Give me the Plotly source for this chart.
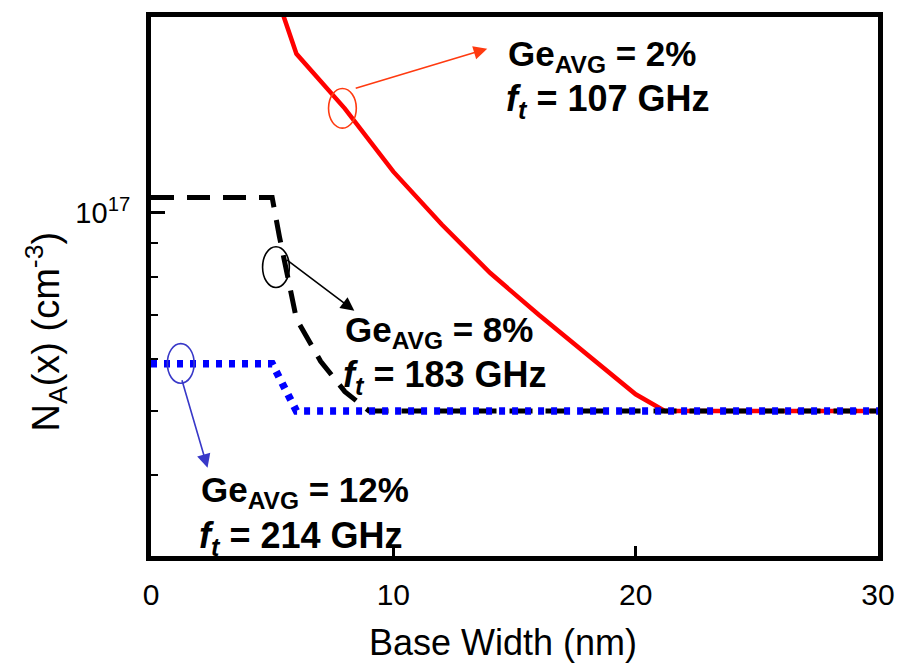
import math
import plotly.graph_objects as go

# ---------------- data ----------------
x_ge2 = [5.45, 6, 8, 10, 12, 14, 16, 18, 20, 21.2, 30]
na_ge2 = [2.0e17, 1.745e17, 1.44e17, 1.155e17, 9.6e16, 8.1e16, 7.0e16, 6.1e16, 5.3e16, 5.0e16, 5.0e16]

x_ge8 = [0, 5, 5.3, 6, 7, 8, 9, 30]
na_ge8 = [1.055e17, 1.055e17, 9.2e16, 6.9e16, 5.95e16, 5.35e16, 5.0e16, 5.0e16]

x_ge12 = [0, 5, 6, 30]
na_ge12 = [5.9e16, 5.9e16, 5.0e16, 5.0e16]

x_ticks = [0, 10, 20, 30]
y_tick_vals = [1e17]
y_tick_text = ["10<sup>17</sup>"]

# ---------------- layout geometry ----------------
W, H = 907, 671
L, R, T, B = 151, 884, 13, 556
FONT = "Liberation Sans, Arial, sans-serif"


def px(xp):
    return (xp - L) / (R - L)


def py(yp):
    return (B - yp) / (B - T)


fig = go.Figure()
fig.add_trace(go.Scatter(x=x_ge2, y=na_ge2, mode="lines",
                         line=dict(color="#ff0000", width=4.5), showlegend=False))
fig.add_trace(go.Scatter(x=x_ge8, y=na_ge8, mode="lines",
                         line=dict(color="black", width=5, dash="23px,13px"), showlegend=False))
fig.add_trace(go.Scatter(x=x_ge12, y=na_ge12, mode="lines",
                         line=dict(color="#0000ff", width=7.5, dash="6px,7px"), showlegend=False))

fig.update_layout(
    width=W, height=H,
    margin=dict(l=L, r=W - R, t=T, b=H - B),
    paper_bgcolor="white", plot_bgcolor="white",
    font=dict(family=FONT, color="black"),
)
fig.update_xaxes(
    range=[0, 30], tickvals=x_ticks, ticks="inside", ticklen=10, tickwidth=2.5,
    tickcolor="black", showline=True, linewidth=5, linecolor="black", mirror=True,
    showgrid=False, zeroline=False, tickfont=dict(size=30, family=FONT),
    ticklabelstandoff=8,
)
fig.update_yaxes(
    type="log", range=[16.4786, 17.2976], tickvals=y_tick_vals, ticktext=y_tick_text,
    ticks="inside", ticklen=14, tickwidth=2.5, tickcolor="black",
    minor=dict(ticks="inside", ticklen=7, tickwidth=2, tickcolor="black", dtick="D1"),
    showline=True, linewidth=5, linecolor="black", mirror=True,
    showgrid=False, zeroline=False, tickfont=dict(size=29, family=FONT),
    ticklabelstandoff=10,
)

ann = []
# axis titles
ann.append(dict(x=px(506), y=py(643), xref="paper", yref="paper", showarrow=False,
                xanchor="center", yanchor="middle",
                text="Base Width (nm)", font=dict(size=36, family=FONT)))
ann.append(dict(x=px(45), y=py(330), xref="paper", yref="paper", showarrow=False,
                xanchor="center", yanchor="middle",
                text="N<sub>A</sub>(x) (cm<sup>-3</sup>)", textangle=-90,
                font=dict(size=38, family=FONT)))

# labels
def label(xl, yc, l1, l2):
    ann.append(dict(x=px(xl), y=py(yc), xref="paper", yref="paper", showarrow=False,
                    xanchor="left", yanchor="middle", text="<b>" + l1 + "</b>",
                    font=dict(size=35, family=FONT)))
    ann.append(dict(x=px(xl - 2), y=py(yc + 46), xref="paper", yref="paper", showarrow=False,
                    xanchor="left", yanchor="middle", text="<b>" + l2 + "</b>",
                    font=dict(size=36, family=FONT)))

label(509, 52, "Ge<sub>AVG</sub> = 2%", "<i>f</i><sub><i>t</i></sub> = 107 GHz")
label(345, 330, "Ge<sub>AVG</sub> = 8%", "<i>f</i><sub><i>t</i></sub> = 183 GHz")
label(199, 492, "Ge<sub>AVG</sub> = 12%", "<i>f</i><sub><i>t</i></sub> = 214 GHz")

# arrows
def arrow(tail, tip, color):
    ann.append(dict(x=px(tip[0]), y=py(tip[1]), xref="paper", yref="paper",
                    ax=tail[0] - tip[0], ay=tail[1] - tip[1], axref="pixel", ayref="pixel",
                    text="", showarrow=True, arrowhead=2, arrowsize=1.7, arrowwidth=1.6,
                    arrowcolor=color))

arrow((357, 85), (490, 45), "#ff3a10")
arrow((287, 257), (356, 309), "black")
arrow((182, 378), (208, 467), "#3838c8")

fig.update_layout(annotations=ann)

# ellipses
def ellipse(cx, cy, rx, ry, color):
    fig.add_shape(type="circle", xref="paper", yref="paper",
                  x0=px(cx - rx), x1=px(cx + rx), y0=py(cy + ry), y1=py(cy - ry),
                  line=dict(color=color, width=1.6))

ellipse(344, 105, 14, 20, "#ff3a10")
ellipse(277, 265, 13.5, 20.5, "black")
ellipse(181, 362, 13.5, 20, "#3838c8")

fig.write_html("out.html", config={"displayModeBar": False},
               post_script="document.body.style.margin='0px';document.body.style.overflow='hidden';")
